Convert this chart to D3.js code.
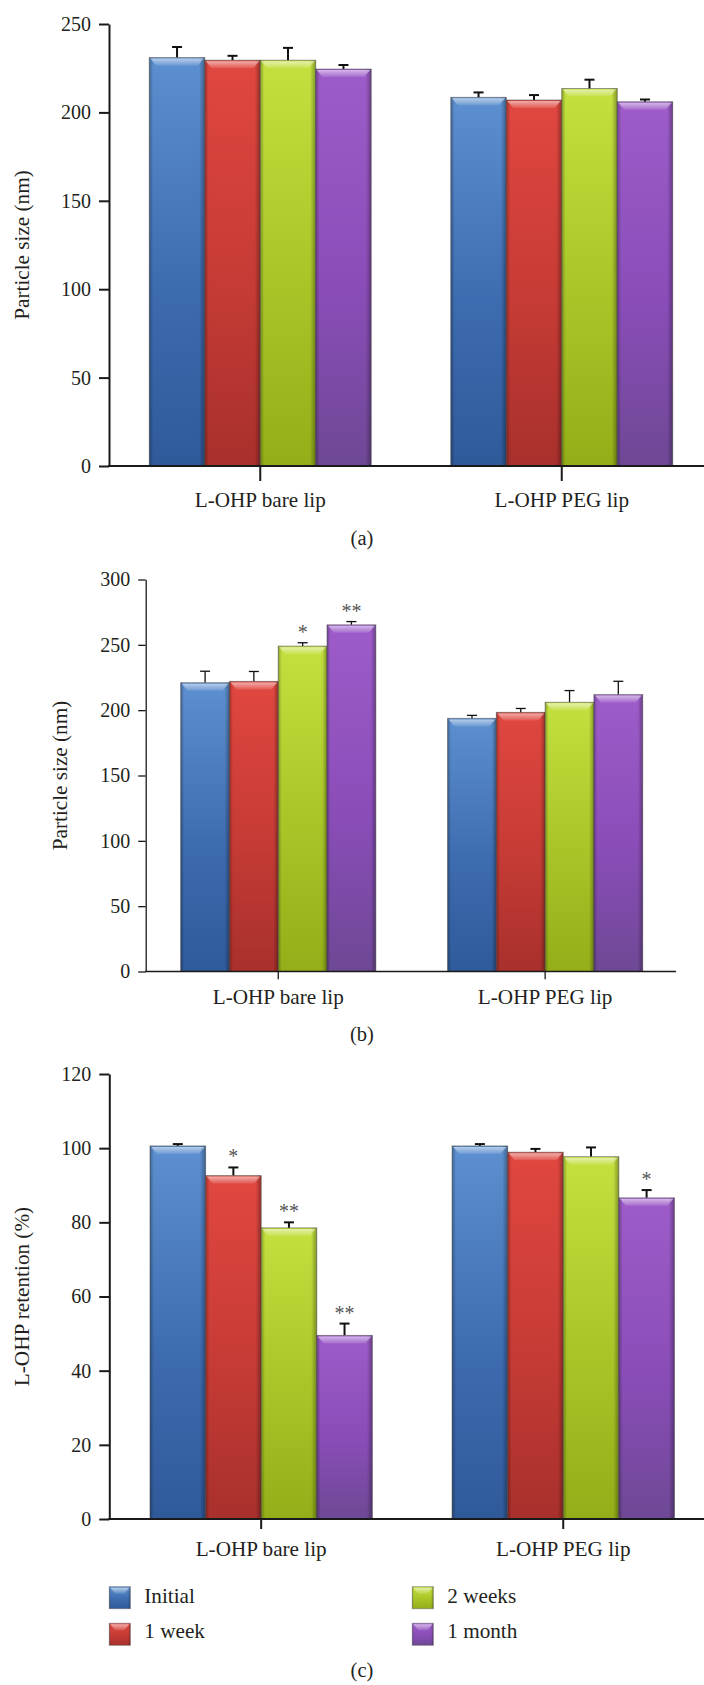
<!DOCTYPE html>
<html>
<head>
<meta charset="utf-8">
<script src="https://cdn.jsdelivr.net/npm/d3@7"></script>
<style>
  body { margin: 0; background: #fff; }
  text { font-family: "Liberation Serif", "Times New Roman", serif; fill: #231f20; }
</style>
</head>
<body>
<svg id="chart" width="704" height="1685"></svg>
<script>
// categories and series
const groups = ['L-OHP bare lip', 'L-OHP PEG lip'];
const seriesNames = ['Initial', '1 week', '2 weeks', '1 month'];

// (a) particle size, first measurement
const sizeA = [[231, 229.5, 229.5, 224.5], [208.5, 207, 213.5, 206]];
const errA = [[6, 2.5, 7, 2.3], [2.8, 2.8, 5, 1.3]];
const ticksA = [0, 50, 100, 150, 200, 250];

// (b) particle size, second measurement
const sizeB = [[221, 222, 249, 265.3], [193.7, 198.3, 206, 211.9]];
const errB = [[8.8, 7.6, 2.6, 2.5], [2.3, 3, 9, 10.2]];
const starsB = [['', '', '*', '**'], ['', '', '', '']];
const ticksB = [0, 50, 100, 150, 200, 250, 300];

// (c) L-OHP retention
const retentionC = [[100.6, 92.6, 78.5, 49.5], [100.6, 98.9, 97.7, 86.6]];
const errC = [[0.5, 2.2, 1.5, 3.2], [0.5, 0.9, 2.5, 2.1]];
const starsC = [['', '*', '**', '**'], ['', '', '', '*']];
const ticksC = [0, 20, 40, 60, 80, 100, 120];

const colors = {
  'Initial': ['#5d90d0', '#3e6cb0', '#2f5a9a'],
  '1 week': ['#e0473f', '#c63b35', '#a8302c'],
  '2 weeks': ['#c2e03e', '#a8c528', '#93ae18'],
  '1 month': ['#9d5cc9', '#8a4db8', '#6e4895']
};

const serif = '"Liberation Serif", "Times New Roman", serif';

const svg = d3.select('#chart');
svg.append('rect').attr('width', 704).attr('height', 1685).attr('fill', '#fff');

const defs = svg.append('defs');
const color = d3.scaleOrdinal().domain(seriesNames).range(seriesNames.map((s, i) => 'body' + i));

seriesNames.forEach((name, i) => {
  const c = colors[name];
  const g = defs.append('linearGradient').attr('id', 'body' + i)
    .attr('x1', 0).attr('y1', 0).attr('x2', 0).attr('y2', 1);
  g.append('stop').attr('offset', '0%').attr('stop-color', c[0]);
  g.append('stop').attr('offset', '55%').attr('stop-color', c[1]);
  g.append('stop').attr('offset', '100%').attr('stop-color', c[2]);
});

const side = defs.append('linearGradient').attr('id', 'side')
  .attr('x1', 0).attr('y1', 0).attr('x2', 1).attr('y2', 0);
side.append('stop').attr('offset', '0%').attr('stop-color', '#000').attr('stop-opacity', 0.28);
side.append('stop').attr('offset', '7%').attr('stop-color', '#000').attr('stop-opacity', 0.0);
side.append('stop').attr('offset', '90%').attr('stop-color', '#000').attr('stop-opacity', 0.0);
side.append('stop').attr('offset', '100%').attr('stop-color', '#000').attr('stop-opacity', 0.32);

const bevel = defs.append('linearGradient').attr('id', 'bevel')
  .attr('x1', 0).attr('y1', 0).attr('x2', 0).attr('y2', 1);
bevel.append('stop').attr('offset', '0%').attr('stop-color', '#fff').attr('stop-opacity', 0.55);
bevel.append('stop').attr('offset', '100%').attr('stop-color', '#fff').attr('stop-opacity', 0.1);

function drawPanel(p) {
  const g = svg.append('g');
  const y = d3.scaleLinear().domain([0, d3.max(p.ticks)]).range([p.y0, p.y1]);
  const x0 = d3.scaleBand().domain(groups).range(p.band).paddingInner(p.pad).paddingOuter(0);
  const x1 = d3.scaleBand().domain(seriesNames).range([0, x0.bandwidth()]);

  // bars
  const rows = [];
  groups.forEach((grp, gi) => seriesNames.forEach((s, si) => rows.push({
    grp, s, v: p.values[gi][si], e: p.errors[gi][si], star: p.stars ? p.stars[gi][si] : ''
  })));

  const bar = g.selectAll('g.bar').data(rows).enter().append('g').attr('class', 'bar')
    .attr('transform', d => `translate(${x0(d.grp) + x1(d.s)},0)`);
  const w = x1.bandwidth();

  bar.append('line')
    .attr('x1', w / 2).attr('x2', w / 2)
    .attr('y1', d => y(d.v)).attr('y2', d => y(d.v + d.e))
    .attr('stroke', '#111').attr('stroke-width', p.lw);
  bar.append('line')
    .attr('x1', w / 2 - 5).attr('x2', w / 2 + 5)
    .attr('y1', d => y(d.v + d.e)).attr('y2', d => y(d.v + d.e))
    .attr('stroke', '#111').attr('stroke-width', p.lw);

  bar.append('rect')
    .attr('y', d => y(d.v)).attr('width', w).attr('height', d => y(0) - y(d.v))
    .attr('fill', d => `url(#${color(d.s)})`);
  bar.append('rect')
    .attr('y', d => y(d.v)).attr('width', w).attr('height', d => y(0) - y(d.v))
    .attr('fill', 'url(#side)')
    .attr('stroke', 'rgba(70,70,70,0.55)').attr('stroke-width', 1);
  bar.append('path')
    .attr('d', d => {
      const t = y(d.v) + 1;
      return `M1,${t}H${w - 1}L${w - 7},${t + 7}H7Z`;
    })
    .attr('fill', 'url(#bevel)');

  bar.filter(d => d.star).append('text')
    .attr('x', w / 2).attr('y', d => y(d.v + d.e) - 4)
    .attr('text-anchor', 'middle').attr('font-size', 20)
    .style('fill', '#555')
    .text(d => d.star);

  // y axis
  const ya = g.append('g').attr('transform', `translate(${p.ax},0)`)
    .call(d3.axisLeft(y).tickValues(p.ticks).tickSize(p.ty).tickSizeOuter(0).tickPadding(8));
  ya.attr('font-family', serif);
  ya.selectAll('path, line').attr('stroke', '#1a1a1a').attr('stroke-width', p.lw);
  ya.selectAll('text').attr('font-size', 20);

  // x axis
  g.append('line')
    .attr('x1', p.ax - p.lw / 2).attr('x2', p.xEnd)
    .attr('y1', y(0)).attr('y2', y(0))
    .attr('stroke', '#1a1a1a').attr('stroke-width', p.lw);
  const xa = g.append('g').attr('transform', `translate(0,${y(0)})`)
    .call(d3.axisBottom(x0).tickSize(p.tx).tickPadding(p.lp));
  xa.attr('font-family', serif);
  xa.select('.domain').remove();
  xa.selectAll('line').attr('stroke', '#1a1a1a').attr('stroke-width', p.lw);
  xa.selectAll('text').attr('font-size', 21.2);

  // y title
  g.append('text')
    .attr('transform', `translate(${p.titleX},${(p.y0 + p.y1) / 2}) rotate(-90)`)
    .attr('text-anchor', 'middle').attr('font-size', 21.2)
    .text(p.title);

  // caption
  g.append('text')
    .attr('x', 362).attr('y', p.capY)
    .attr('text-anchor', 'middle').attr('font-size', 20.5)
    .text(p.caption);
}

drawPanel({
  values: sizeA, errors: errA, ticks: ticksA,
  y0: 466, y1: 24, band: [149.3, 672.7], pad: 0.264,
  ax: 109, xEnd: 704, ty: 10, tx: 15, lw: 2, lp: 11,
  title: 'Particle size (nm)', titleX: 29, caption: '(a)', capY: 545
});

drawPanel({
  values: sizeB, errors: errB, stars: starsB, ticks: ticksB,
  y0: 971.5, y1: 579.5, band: [180.7, 642.7], pad: 0.269,
  ax: 145.7, xEnd: 676, ty: 7.5, tx: 7.7, lw: 1.3, lp: 10,
  title: 'Particle size (nm)', titleX: 67, caption: '(b)', capY: 1040.7
});

drawPanel({
  values: retentionC, errors: errC, stars: starsC, ticks: ticksC,
  y0: 1519, y1: 1074, band: [150, 674.4], pad: 0.264,
  ax: 109.3, xEnd: 704, ty: 10, tx: 10, lw: 2, lp: 11.5,
  title: 'L-OHP retention (%)', titleX: 29, caption: '(c)', capY: 1677
});

// legend
const legend = svg.append('g').selectAll('g').data(seriesNames).enter().append('g')
  .attr('transform', (d, i) => `translate(${[109.3, 412.3][Math.floor(i / 2)]},${[1586.7, 1623.3][i % 2]})`);
legend.append('rect').attr('width', 21).attr('height', 22)
  .attr('fill', d => `url(#${color(d)})`);
legend.append('rect').attr('width', 21).attr('height', 22)
  .attr('fill', 'url(#side)').attr('stroke', 'rgba(90,90,90,0.5)').attr('stroke-width', 1);
legend.append('path').attr('d', 'M1,1H20L15,7H6Z').attr('fill', 'url(#bevel)');
legend.append('text').attr('x', 35).attr('y', (d, i) => [16.6, 15][i % 2])
  .attr('font-size', 21.2).text(d => d);

svg.selectAll('text').style('font-family', serif);
</script>
</body>
</html>
